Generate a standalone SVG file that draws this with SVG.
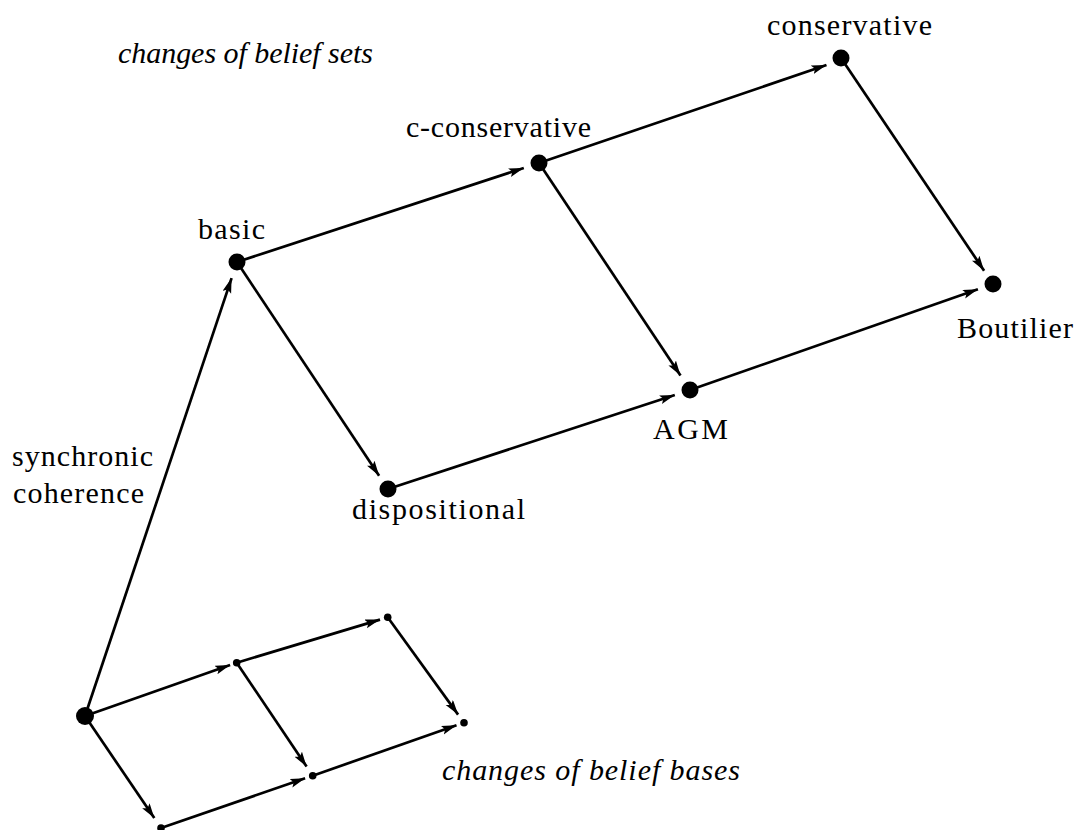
<svg xmlns="http://www.w3.org/2000/svg" width="1077" height="830" viewBox="0 0 1077 830">
<style>
.e{fill:none;stroke:#000;stroke-width:2.7;marker-end:url(#ah)}
.big{fill:#000}
.sm{fill:#000}
.t{font-family:"Liberation Serif","Times New Roman",serif;font-size:30px;fill:#000}
.i{font-style:italic}
</style>
<defs>
<marker id="ah" markerUnits="userSpaceOnUse" markerWidth="18" markerHeight="12" refX="15" refY="4.5" orient="auto">
<path d="M0,0 L15,4.5 L0,9 L3,4.5 z" fill="#000"/>
</marker>
</defs>
<rect width="1077" height="830" fill="#fff"/>
<g id="connectors">
<path class="e" d="M85,716 L231.6,278.1"/>
<path class="e" d="M237,262 L523.8,168"/>
<path class="e" d="M539,163 L826.5,65"/>
<path class="e" d="M237,262 L379.1,475.7"/>
<path class="e" d="M539,163 L680.5,375.5"/>
<path class="e" d="M841,58 L984.1,270.7"/>
<path class="e" d="M388,489 L674.8,395"/>
<path class="e" d="M690,390 L977.9,289.3"/>
<path class="e" d="M85,716 L230.1,665"/>
<path class="e" d="M236.7,662.7 L380,619.6"/>
<path class="e" d="M387.7,617.3 L458.1,714.6"/>
<path class="e" d="M85,716 L154.3,818.1"/>
<path class="e" d="M236.7,662.7 L306.6,766.6"/>
<path class="e" d="M161,828 L305.1,778.3"/>
<path class="e" d="M312.7,775.7 L456.5,725.3"/>
</g>
<g id="n-conservative"><circle class="big" cx="841" cy="58" r="8.5"/><text class="t" x="767" y="35" textLength="165" lengthAdjust="spacing">conservative</text></g>
<g id="n-cconservative"><circle class="big" cx="539" cy="163" r="8.5"/><text class="t" x="406" y="137" textLength="185" lengthAdjust="spacing">c-conservative</text></g>
<g id="n-basic"><circle class="big" cx="237" cy="262" r="8.5"/><text class="t" x="198" y="239" textLength="67" lengthAdjust="spacing">basic</text></g>
<g id="n-boutilier"><circle class="big" cx="993" cy="284" r="8.5"/><text class="t" x="957" y="338" textLength="116" lengthAdjust="spacing">Boutilier</text></g>
<g id="n-agm"><circle class="big" cx="690" cy="390" r="8.5"/><text class="t" x="653" y="439" textLength="75" lengthAdjust="spacing">AGM</text></g>
<g id="n-dispositional"><circle class="big" cx="388" cy="489" r="8.5"/><text class="t" x="352" y="519" textLength="173" lengthAdjust="spacing">dispositional</text></g>
<g id="n-root"><circle class="big" cx="85" cy="716" r="9"/></g>
<g id="n-s1"><circle class="sm" cx="236.7" cy="662.7" r="3.8"/></g>
<g id="n-s2"><circle class="sm" cx="387.7" cy="617.3" r="3.8"/></g>
<g id="n-s3"><circle class="sm" cx="464" cy="722.7" r="3.8"/></g>
<g id="n-s4"><circle class="sm" cx="312.7" cy="775.7" r="3.8"/></g>
<g id="n-s5"><circle class="sm" cx="161" cy="828" r="3.8"/></g>
<g id="labels">
<text class="t" x="12" y="466" textLength="141" lengthAdjust="spacing">synchronic</text>
<text class="t" x="13" y="503" textLength="131" lengthAdjust="spacing">coherence</text>
<text class="t i" x="118" y="63" textLength="255" lengthAdjust="spacing">changes of belief sets</text>
<text class="t i" x="442" y="780" textLength="298" lengthAdjust="spacing">changes of belief bases</text>
</g>
</svg>
